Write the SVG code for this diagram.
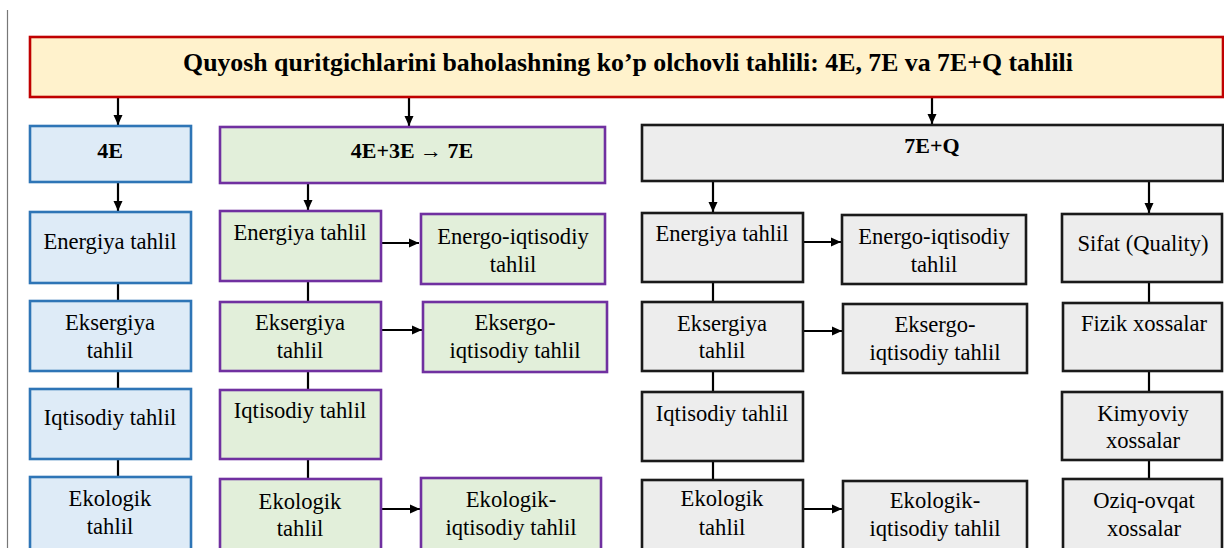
<svg xmlns="http://www.w3.org/2000/svg" width="1224" height="548" viewBox="0 0 1224 548">
<style>
text{font-family:"Liberation Serif","Times New Roman",serif;fill:#000;text-anchor:middle}
.t{font-size:22.6px}
.h{font-size:22px;font-weight:bold}
.title{font-size:25.8px;font-weight:bold}
.blue{fill:#DEEBF7;stroke:#2E75B6;stroke-width:2.6}
.green{fill:#E2EFDA;stroke:#7030A0;stroke-width:2.6}
.gray{fill:#EDEDED;stroke:#1A1A1A;stroke-width:2.6}
.ttl{fill:#FFF2CC;stroke:#C00000;stroke-width:2.6}
.c{stroke:#000;stroke-width:2.2;fill:none}
.a{stroke:#000;stroke-width:2.2;fill:none;marker-end:url(#ah)}
</style>
<defs>
<marker id="ah" markerUnits="userSpaceOnUse" markerWidth="11" markerHeight="11" refX="10" refY="5.5" orient="auto">
<path d="M0,1 L10,5.5 L0,10 z" fill="#000"/>
</marker>
</defs>
<line x1="7.5" y1="10" x2="7.5" y2="548" stroke="#777" stroke-width="1.2"/>
<g id="connectors">
<line class="a" x1="118" y1="97" x2="118" y2="125"/>
<line class="a" x1="409" y1="97" x2="409" y2="126"/>
<line class="a" x1="932" y1="97" x2="932" y2="124"/>
<line class="a" x1="118" y1="182" x2="118" y2="211"/>
<line class="a" x1="308" y1="183" x2="308" y2="210"/>
<line class="a" x1="713" y1="181" x2="713" y2="212"/>
<line class="a" x1="1149" y1="181" x2="1149" y2="213"/>
<line class="c" x1="118" y1="283" x2="118" y2="301"/>
<line class="c" x1="118" y1="371" x2="118" y2="389"/>
<line class="c" x1="118" y1="459" x2="118" y2="477"/>
<line class="c" x1="308" y1="281" x2="308" y2="302"/>
<line class="c" x1="308" y1="371" x2="308" y2="390"/>
<line class="c" x1="308" y1="459" x2="308" y2="479"/>
<line class="c" x1="713" y1="282" x2="713" y2="302"/>
<line class="c" x1="713" y1="371" x2="713" y2="392"/>
<line class="c" x1="713" y1="461" x2="713" y2="480"/>
<line class="c" x1="1149" y1="282" x2="1149" y2="303"/>
<line class="c" x1="1149" y1="371" x2="1149" y2="391"/>
<line class="c" x1="1149" y1="460" x2="1149" y2="479"/>
<line class="a" x1="382" y1="243" x2="419" y2="243"/>
<line class="a" x1="382" y1="330" x2="422" y2="330"/>
<line class="a" x1="382" y1="509" x2="420" y2="509"/>
<line class="a" x1="803" y1="242" x2="841" y2="242"/>
<line class="a" x1="803" y1="331" x2="842" y2="331"/>
<line class="a" x1="803" y1="509" x2="842" y2="509"/>
</g>
<g id="title"><rect class="ttl" x="30" y="37" width="1193" height="60"/><text class="title" x="628" y="71">Quyosh quritgichlarini baholashning ko’p olchovli tahlili: 4E, 7E va 7E+Q tahlili</text></g>
<g id="h4e"><rect class="blue" x="30" y="126" width="161" height="56"/><text class="h" x="110" y="158">4E</text></g>
<g id="h7e"><rect class="green" x="220" y="127" width="385" height="56"/><text class="h" x="412" y="158">4E+3E → 7E</text></g>
<g id="h7eq"><rect class="gray" x="642" y="125" width="581" height="56"/><text class="h" x="932" y="153">7E+Q</text></g>

<g id="b1"><rect class="blue" x="30" y="212" width="161" height="71"/><text class="t" x="110" y="249">Energiya tahlil</text></g>
<g id="b2"><rect class="blue" x="30" y="301" width="161" height="70"/><text class="t" x="110" y="330">Eksergiya</text><text class="t" x="110" y="358">tahlil</text></g>
<g id="b3"><rect class="blue" x="30" y="389" width="161" height="70"/><text class="t" x="110" y="425">Iqtisodiy tahlil</text></g>
<g id="b4"><rect class="blue" x="30" y="477" width="161" height="90"/><text class="t" x="110" y="506">Ekologik</text><text class="t" x="110" y="534">tahlil</text></g>

<g id="g1"><rect class="green" x="220" y="211" width="161" height="70"/><text class="t" x="300" y="240">Energiya tahlil</text></g>
<g id="g2"><rect class="green" x="220" y="302" width="161" height="69"/><text class="t" x="300" y="330">Eksergiya</text><text class="t" x="300" y="358">tahlil</text></g>
<g id="g3"><rect class="green" x="220" y="390" width="161" height="69"/><text class="t" x="300" y="418">Iqtisodiy tahlil</text></g>
<g id="g4"><rect class="green" x="220" y="479" width="161" height="90"/><text class="t" x="300" y="509">Ekologik</text><text class="t" x="300" y="536">tahlil</text></g>

<g id="ge1"><rect class="green" x="421" y="214" width="184" height="70"/><text class="t" x="513" y="244">Energo-iqtisodiy</text><text class="t" x="513" y="272">tahlil</text></g>
<g id="ge2"><rect class="green" x="423" y="302" width="184" height="70"/><text class="t" x="515" y="330">Eksergo-</text><text class="t" x="515" y="358">iqtisodiy tahlil</text></g>
<g id="ge4"><rect class="green" x="421" y="478" width="180" height="90"/><text class="t" x="511" y="507">Ekologik-</text><text class="t" x="511" y="535">iqtisodiy tahlil</text></g>

<g id="q1"><rect class="gray" x="642" y="213" width="161" height="69"/><text class="t" x="722" y="241">Energiya tahlil</text></g>
<g id="q2"><rect class="gray" x="642" y="302" width="161" height="69"/><text class="t" x="722" y="331">Eksergiya</text><text class="t" x="722" y="358">tahlil</text></g>
<g id="q3"><rect class="gray" x="642" y="392" width="161" height="69"/><text class="t" x="722" y="421">Iqtisodiy tahlil</text></g>
<g id="q4"><rect class="gray" x="642" y="480" width="161" height="90"/><text class="t" x="722" y="506">Ekologik</text><text class="t" x="722" y="535">tahlil</text></g>

<g id="qe1"><rect class="gray" x="842" y="215" width="184" height="69"/><text class="t" x="934" y="244">Energo-iqtisodiy</text><text class="t" x="934" y="272">tahlil</text></g>
<g id="qe2"><rect class="gray" x="843" y="304" width="184" height="69"/><text class="t" x="935" y="332">Eksergo-</text><text class="t" x="935" y="360">iqtisodiy tahlil</text></g>
<g id="qe4"><rect class="gray" x="843" y="481" width="184" height="90"/><text class="t" x="935" y="508">Ekologik-</text><text class="t" x="935" y="536">iqtisodiy tahlil</text></g>

<g id="s1"><rect class="gray" x="1062" y="214" width="160" height="68"/><text class="t" x="1143" y="251">Sifat (Quality)</text></g>
<g id="s2"><rect class="gray" x="1063" y="303" width="159" height="68"/><text class="t" x="1144" y="331">Fizik xossalar</text></g>
<g id="s3"><rect class="gray" x="1062" y="392" width="160" height="68"/><text class="t" x="1143" y="421">Kimyoviy</text><text class="t" x="1143" y="448">xossalar</text></g>
<g id="s4"><rect class="gray" x="1063" y="479" width="159" height="90"/><text class="t" x="1144" y="508">Oziq-ovqat</text><text class="t" x="1144" y="536">xossalar</text></g>
</svg>
